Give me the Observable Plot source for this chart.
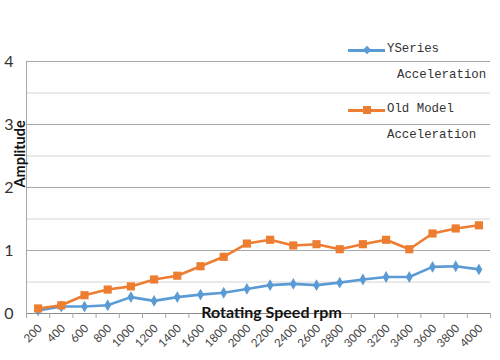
<!DOCTYPE html>
<html>
<head>
<meta charset="utf-8">
<script src="https://cdn.jsdelivr.net/npm/d3@7"></script>
<script src="https://cdn.jsdelivr.net/npm/@observablehq/plot@0.6"></script>
<style>
  html, body { margin: 0; padding: 0; background: #fff; }
  #wrap { position: relative; width: 500px; height: 360px; overflow: hidden; }
  .leg { position: absolute; font-family: "Liberation Mono", monospace; font-size: 12.4px; color: #333; line-height: 1; white-space: nowrap; }
  .lline { position: absolute; height: 3px; }
  .mk { position: absolute; }
</style>
</head>
<body>
<div id="wrap"></div>
<script>
const speeds = [200, 400, 600, 800, 1000, 1200, 1400, 1600, 1800, 2000, 2200, 2400, 2600, 2800, 3000, 3200, 3400, 3600, 3800, 4000];
const ySeries = [0.05, 0.11, 0.11, 0.13, 0.26, 0.20, 0.26, 0.30, 0.33, 0.39, 0.45, 0.47, 0.45, 0.49, 0.54, 0.58, 0.58, 0.74, 0.75, 0.70];
const oldModel = [0.08, 0.13, 0.29, 0.38, 0.43, 0.54, 0.60, 0.75, 0.90, 1.11, 1.17, 1.08, 1.10, 1.02, 1.10, 1.17, 1.02, 1.27, 1.35, 1.40];
const yTicks = [0, 1, 2, 3, 4];
const yHalfGrid = [0.5, 1.5, 2.5, 3.5];
const seriesNames = ["YSeries", "Old Model"];
const seriesColors = ["#5B9BD5", "#ED7D31"];

const step = speeds[1] - speeds[0];
const xDomain = [speeds[0] - step / 2, speeds[speeds.length - 1] + step / 2];
const boundaries = [xDomain[0], ...speeds.map(s => s + step / 2)];

const blueData = speeds.map((s, i) => ({speed: s, value: ySeries[i]}));
const orangeData = speeds.map((s, i) => ({speed: s, value: oldModel[i]}));

const chart = Plot.plot({
  width: 500,
  height: 360,
  marginLeft: 26,
  marginRight: 10,
  marginTop: 61,
  marginBottom: 47,
  style: {fontFamily: "Lato, sans-serif", background: "#fff"},
  x: {domain: xDomain, axis: null},
  y: {domain: [0, 4], axis: null},
  marks: [
    Plot.ruleY(yHalfGrid, {stroke: "#d4d4d4", strokeWidth: 1}),
    Plot.ruleY(yTicks.slice(1), {stroke: "#a8a8a8", strokeWidth: 1}),
    Plot.ruleY([yTicks[0]], {stroke: "#8c8c8c", strokeWidth: 1}),
    Plot.ruleX([xDomain[0]], {y1: yTicks[0], y2: yTicks[yTicks.length - 1], stroke: "#a8a8a8"}),
    Plot.axisX(boundaries, {tickFormat: () => "", tickSize: 5, stroke: "#a8a8a8", label: null}),
    Plot.axisX(speeds, {tickSize: 0, tickRotate: -45, textAnchor: "end", tickPadding: 13, dx: 2, fontSize: 11.5, fill: "#444", label: null, tickFormat: d => String(d)}),
    Plot.axisY(yTicks, {tickSize: 0, tickPadding: 13, fontSize: 16, fill: "#333", label: null, tickFormat: d => String(d)}),
    Plot.line(blueData, {x: "speed", y: "value", stroke: seriesColors[0], strokeWidth: 2.6}),
    Plot.dot(blueData, {x: "speed", y: "value", symbol: "diamond", r: 3.6, fill: seriesColors[0], stroke: "none"}),
    Plot.line(orangeData, {x: "speed", y: "value", stroke: seriesColors[1], strokeWidth: 2.6}),
    Plot.dot(orangeData, {x: "speed", y: "value", symbol: "square", r: 4.6, fill: seriesColors[1], stroke: "none"}),
    Plot.text(["Amplitude"], {frameAnchor: "left", rotate: -90, dx: -6, fontSize: 14.5, fontWeight: "bold", fill: "#111"}),
    Plot.text(["Rotating Speed rpm"], {frameAnchor: "bottom", dy: 4, dx: 13, fontSize: 16, fontWeight: "bold", fill: "#111"})
  ]
});

const wrap = document.getElementById("wrap");
wrap.appendChild(chart);

// Legend overlay
function legendItem(top, color, marker, name, sub, subLeft) {
  const line = document.createElement("div");
  line.className = "lline";
  line.style.cssText = `left:348px;top:${top - 1.5}px;width:37px;background:${color};`;
  wrap.appendChild(line);
  const mk = document.createElement("div");
  mk.className = "mk";
  if (marker === "square") {
    mk.style.cssText = `left:363px;top:${top - 4}px;width:8px;height:8px;background:${color};`;
  } else {
    mk.style.cssText = `left:364px;top:${top - 3}px;width:6px;height:6px;background:${color};transform:rotate(45deg);`;
  }
  wrap.appendChild(mk);
  const t = document.createElement("div");
  t.className = "leg";
  t.style.cssText = `left:387px;top:${top - 7}px;`;
  t.textContent = name;
  wrap.appendChild(t);
  const s = document.createElement("div");
  s.className = "leg";
  s.style.cssText = `left:${subLeft}px;top:${top + 19}px;`;
  s.textContent = sub;
  wrap.appendChild(s);
}
legendItem(50, seriesColors[0], "diamond", seriesNames[0], "Acceleration", 397);
legendItem(110, seriesColors[1], "square", seriesNames[1], "Acceleration", 387);
</script>
</body>
</html>
